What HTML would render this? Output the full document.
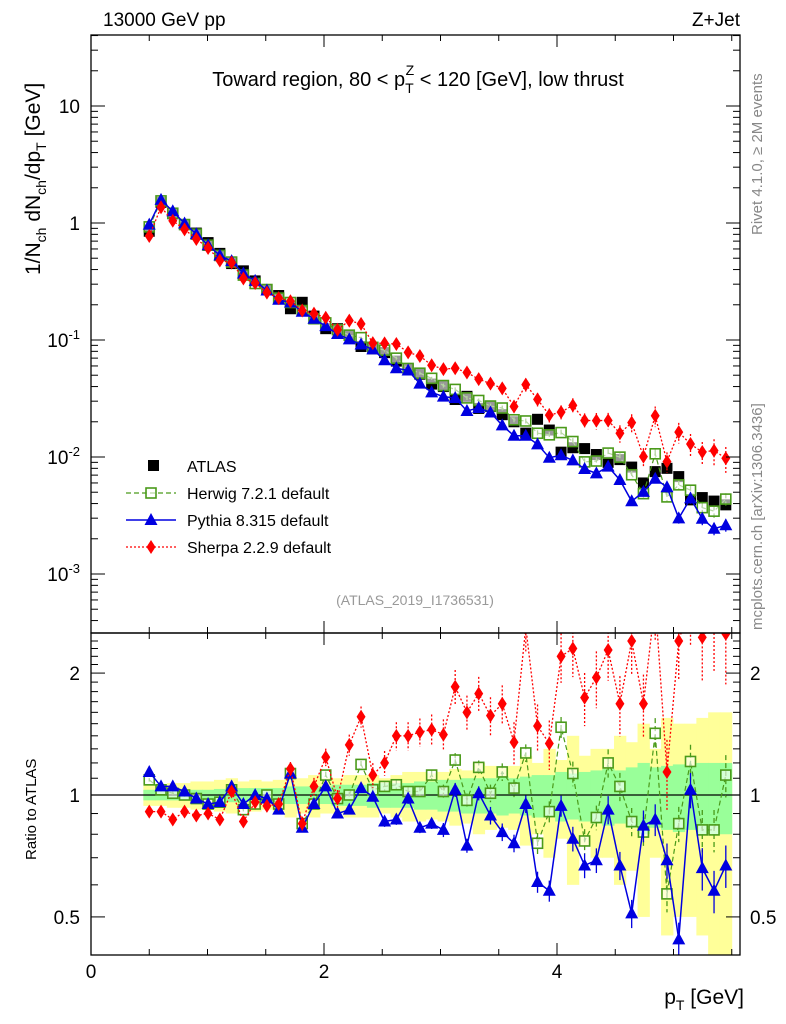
<!DOCTYPE html>
<html><head><meta charset="utf-8"><style>
html,body{margin:0;padding:0;background:#fff;}
svg{display:block;font-family:"Liberation Sans",sans-serif;}
</style></head><body>
<svg id="c" width="786" height="1024" viewBox="0 0 786 1024" xmlns="http://www.w3.org/2000/svg">
<text x="103" y="26" font-size="19">13000 GeV pp</text>
<text x="740" y="26" font-size="19" text-anchor="end">Z+Jet</text>
<text transform="translate(762,235) rotate(-90)" font-size="15" fill="#888">Rivet 4.1.0, ≥ 2M events</text>
<text transform="translate(762,630) rotate(-90)" font-size="15" fill="#888">mcplots.cern.ch [arXiv:1306.3436]</text>
<text x="418" y="86" font-size="20" text-anchor="middle">Toward region, 80 &lt; p<tspan font-size="14" dy="7">T</tspan><tspan font-size="14" dx="-8" dy="-18">Z</tspan><tspan dy="11"> &lt; 120 [GeV], low thrust</tspan></text>
<text transform="translate(40,275) rotate(-90)" font-size="21">1/N<tspan font-size="14" dy="6">ch</tspan><tspan dy="-6"> dN</tspan><tspan font-size="14" dy="6">ch</tspan><tspan dy="-6">/dp</tspan><tspan font-size="14" dy="6">T</tspan><tspan dy="-6"> [GeV]</tspan></text>
<text transform="translate(36,860) rotate(-90)" font-size="15">Ratio to ATLAS</text>
<text x="744" y="1004" font-size="21" text-anchor="end">p<tspan font-size="14" dy="6">T</tspan><tspan dy="-6"> [GeV]</tspan></text>
<text x="415" y="605" font-size="14" fill="#999" text-anchor="middle">(ATLAS_2019_I1736531)</text>
<g id="g"></g>
</svg>
<script>
const xs=[0.500,0.601,0.702,0.803,0.904,1.005,1.106,1.207,1.308,1.409,1.510,1.611,1.712,1.813,1.914,2.015,2.116,2.217,2.318,2.419,2.520,2.621,2.722,2.823,2.924,3.025,3.126,3.227,3.328,3.429,3.530,3.631,3.732,3.833,3.934,4.035,4.136,4.237,4.338,4.439,4.540,4.641,4.742,4.843,4.944,5.045,5.146,5.247,5.348,5.449];
const atlas=[0.85,1.5,1.2,0.97,0.82,0.68,0.55,0.45,0.39,0.32,0.27,0.24,0.185,0.21,0.16,0.125,0.125,0.11,0.088,0.084,0.078,0.066,0.056,0.051,0.042,0.040,0.031,0.033,0.026,0.027,0.023,0.020,0.016,0.021,0.017,0.011,0.012,0.0118,0.0105,0.0090,0.0095,0.0082,0.0060,0.0075,0.0080,0.0068,0.0043,0.0045,0.0042,0.0039];
const herwigRatio=[1.09,1.03,1.01,1.0,0.98,0.95,0.96,1.03,0.92,0.95,1.0,0.95,1.13,0.85,0.95,1.12,0.98,1.0,1.19,1.03,1.05,1.06,1.02,1.02,1.12,1.02,1.22,0.97,1.17,1.01,1.14,1.04,1.27,0.76,0.91,1.47,1.13,0.77,0.88,1.2,1.05,0.86,0.81,1.42,0.57,0.85,1.21,0.82,0.82,1.12];
const pythiaRatio=[1.14,1.05,1.05,1.02,0.98,0.95,0.96,1.05,0.95,1.0,0.98,0.92,1.13,0.83,0.95,1.05,0.9,0.92,1.04,0.99,0.86,0.87,0.98,0.83,0.85,0.82,1.03,0.75,1.01,0.89,0.81,0.76,0.95,0.61,0.58,0.94,0.78,0.67,0.69,0.92,0.67,0.51,0.84,0.87,0.69,0.44,1.03,0.66,0.58,0.67];
const sherpaRatio=[0.91,0.91,0.87,0.91,0.89,0.9,0.87,1.02,0.86,0.96,0.94,0.95,1.16,0.85,1.05,1.24,0.98,1.33,1.56,1.12,1.2,1.4,1.4,1.43,1.45,1.41,1.85,1.6,1.78,1.57,1.68,1.35,2.6,1.48,1.34,2.2,2.3,1.74,1.95,2.28,1.68,2.4,1.68,3.0,1.14,2.4,3.0,2.45,2.7,2.5];
const bandInner=[0.03,0.03,0.03,0.03,0.03,0.03,0.035,0.04,0.04,0.04,0.04,0.04,0.05,0.05,0.05,0.05,0.06,0.06,0.06,0.07,0.07,0.07,0.07,0.08,0.08,0.09,0.09,0.1,0.1,0.1,0.11,0.1,0.11,0.12,0.12,0.14,0.13,0.14,0.15,0.16,0.15,0.17,0.2,0.17,0.18,0.19,0.18,0.2,0.2,0.2];
const bandOuter=[0.06,0.06,0.07,0.07,0.08,0.08,0.09,0.1,0.08,0.09,0.08,0.09,0.12,0.1,0.12,0.1,0.1,0.12,0.12,0.12,0.1,0.12,0.14,0.14,0.13,0.14,0.16,0.15,0.2,0.18,0.17,0.18,0.25,0.2,0.3,0.22,0.4,0.25,0.3,0.3,0.4,0.35,0.5,0.3,0.55,0.5,0.5,0.55,0.6,0.6];
const mcRelErr=[0.01,0.01,0.01,0.01,0.01,0.01,0.01,0.01,0.01,0.01,0.01,0.01,0.015,0.015,0.015,0.02,0.02,0.02,0.02,0.02,0.03,0.03,0.03,0.03,0.03,0.04,0.04,0.04,0.04,0.05,0.05,0.05,0.05,0.06,0.06,0.06,0.07,0.07,0.07,0.08,0.08,0.08,0.09,0.09,0.1,0.1,0.1,0.12,0.12,0.12];
const sherpaRelErr=[0.02,0.02,0.02,0.02,0.02,0.02,0.02,0.03,0.03,0.03,0.03,0.03,0.04,0.04,0.05,0.05,0.05,0.06,0.06,0.07,0.07,0.08,0.08,0.08,0.09,0.09,0.1,0.1,0.1,0.11,0.11,0.12,0.13,0.13,0.14,0.14,0.15,0.15,0.16,0.16,0.17,0.18,0.18,0.2,0.2,0.2,0.22,0.22,0.25,0.25];
const mainTicks=[{v:10,l:"10"},{v:1,l:"1"},{v:0.1,l:"-1"},{v:0.01,l:"-2"},{v:0.001,l:"-3"}];
const ratioTicks=[2,1,0.5];
const xTicks=[0,2,4];

const NS="http://www.w3.org/2000/svg";
const g=document.getElementById('g');
const L=91,R=740,T=35,M=633,B=955;
const X=v=>L+v*116.5;
const Ym=v=>223-117*Math.log10(v);
const Yr=v=>795-405*Math.log10(v);
function el(t,a,p){const e=document.createElementNS(NS,t);for(const k in a)e.setAttribute(k,a[k]);(p||g).appendChild(e);return e;}
const clipDefs=el('defs',{});
const c1=el('clipPath',{id:'cm'},clipDefs);el('rect',{x:L,y:T,width:R-L,height:M-T},c1);
const c2=el('clipPath',{id:'cr'},clipDefs);el('rect',{x:L,y:M,width:R-L,height:B-M},c2);
const gm=el('g',{'clip-path':'url(#cm)'});


const gr=el('g',{'clip-path':'url(#cr)'});


const hw=5.9;
xs.forEach((x,i)=>{
  const r1=el('rect',{x:X(x)-hw,y:Yr(1+bandOuter[i]),width:2*hw+0.5,height:Yr(1-bandOuter[i])-Yr(1+bandOuter[i]),fill:'#ffff99'},gr);
  
  
});
xs.forEach((x,i)=>{
  const r2=el('rect',{x:X(x)-hw,y:Yr(1+bandInner[i]),width:2*hw+0.5,height:Yr(1-bandInner[i])-Yr(1+bandInner[i]),fill:'#99ff99'},gr);
  
  
});
const one=el('line',{x1:L,x2:R,y1:Yr(1),y2:Yr(1),stroke:'#000','stroke-width':1.3},gr);


xs.forEach((x,i)=>{
  const s=el('rect',{x:X(x)-5.5,y:Ym(atlas[i])-5.5,width:11,height:11,fill:'#000'},gm);
  
  
});
function marker(par,type,cx,cy,color){
  let e;
  if(type==='sq')e=el('rect',{x:cx-5,y:cy-5,width:10,height:10,fill:'#fff','fill-opacity':0.6,stroke:color,'stroke-width':1.6},par);
  else if(type==='tri')e=el('path',{d:`M${cx},${cy-7}L${cx+6.5},${cy+5}L${cx-6.5},${cy+5}Z`,fill:color},par);
  else e=el('path',{d:`M${cx},${cy-7}L${cx+4.5},${cy}L${cx},${cy+7}L${cx-4.5},${cy}Z`,fill:color},par);
  return e;
}
const series=[
 {name:'herwig',ratio:herwigRatio,err:mcRelErr,color:'#4a9a1a',dash:'5,3',w:1.2,type:'sq'},
 {name:'pythia',ratio:pythiaRatio,err:mcRelErr,color:'#0000e0',dash:'',w:1.5,type:'tri'},
 {name:'sherpa',ratio:sherpaRatio,err:sherpaRelErr,color:'#ff0000',dash:'2,2',w:1.3,type:'dia'}
];
series.forEach(s=>{
  [[gm,(i)=>Ym(atlas[i]*s.ratio[i]),(i,f)=>Ym(atlas[i]*s.ratio[i]*f)],[gr,(i)=>Yr(s.ratio[i]),(i,f)=>Yr(s.ratio[i]*f)]].forEach(([par,yf,ye])=>{
    const pts=xs.map((x,i)=>X(x)+','+yf(i)).join(' ');
    const pl=el('polyline',{points:pts,fill:'none',stroke:s.color,'stroke-width':s.w,'stroke-dasharray':s.dash},par);
    
    
    xs.forEach((x,i)=>{
      const eb=el('line',{x1:X(x),x2:X(x),y1:ye(i,1+s.err[i]),y2:ye(i,1-s.err[i]),stroke:s.color,'stroke-width':1.3,'stroke-dasharray':s.dash},par);
      
      
      const m=marker(par,s.type,X(x),yf(i),s.color);
      
      
    });
  });
});
[[T,M],[M,B]].forEach(([t,b],k)=>{
  const f=el('rect',{x:L,y:t,width:R-L,height:b-t,fill:'none',stroke:'#000','stroke-width':1.3});
  
  
  for(let v=0;v<=5.5;v+=0.5){
    const len=(v%2===0)?12:6;
    el('line',{x1:X(v),x2:X(v),y1:b,y2:b-len,stroke:'#000'});
    el('line',{x1:X(v),x2:X(v),y1:t,y2:t+len,stroke:'#000'});
  }
});
xTicks.forEach(v=>{
  const t=el('text',{x:X(v),y:978,'font-size':19,'text-anchor':'middle'});t.textContent=v;
  
  
});
for(let d=-4;d<=1;d++){for(let m=1;m<10;m++){const v=m*Math.pow(10,d);const y=Ym(v);if(y<T||y>M)continue;const len=m===1?14:7;
  el('line',{x1:L,x2:L+len,y1:y,y2:y,stroke:'#000'});el('line',{x1:R,x2:R-len,y1:y,y2:y,stroke:'#000'});}}
mainTicks.forEach(tk=>{
  const y=Ym(tk.v);
  const t=el('text',{x:80,y:y+7,'font-size':19,'text-anchor':'end'});
  if(tk.v>=1)t.textContent=tk.l;else{t.textContent='10';const sp=el('tspan',{'font-size':13,dy:-8},t);sp.textContent=tk.l;}
  
  
});
for(let v=0.4;v<=2.5;v+=0.1){const y=Yr(v);if(y<M||y>B)continue;const maj=[0.5,1,2].some(q=>Math.abs(q-v)<1e-6);const len=maj?14:7;
  el('line',{x1:L,x2:L+len,y1:y,y2:y,stroke:'#000'});el('line',{x1:R,x2:R-len,y1:y,y2:y,stroke:'#000'});}
ratioTicks.forEach(v=>{
  const t=el('text',{x:80,y:Yr(v)+7,'font-size':19,'text-anchor':'end'});t.textContent=v;
  
  
  const t2=el('text',{x:750,y:Yr(v)+7,'font-size':19});t2.textContent=v;
  
  
});
const leg=[{t:'ATLAS',type:'atlas'},{t:'Herwig 7.2.1 default',s:series[0]},{t:'Pythia 8.315 default',s:series[1]},{t:'Sherpa 2.2.9 default',s:series[2]}];
leg.forEach((e,i)=>{
  const y=466+i*27;
  if(e.type==='atlas'){const r=el('rect',{x:148,y:y-6,width:11,height:11,fill:'#000'});}
  else{el('line',{x1:126,x2:176,y1:y,y2:y,stroke:e.s.color,'stroke-width':e.s.w,'stroke-dasharray':e.s.dash});
    const m=marker(g,e.s.type,151,y,e.s.color);}
  const t=el('text',{x:187,y:y+6,'font-size':16});t.textContent=e.t;
  
  
});
</script>
</body></html>
